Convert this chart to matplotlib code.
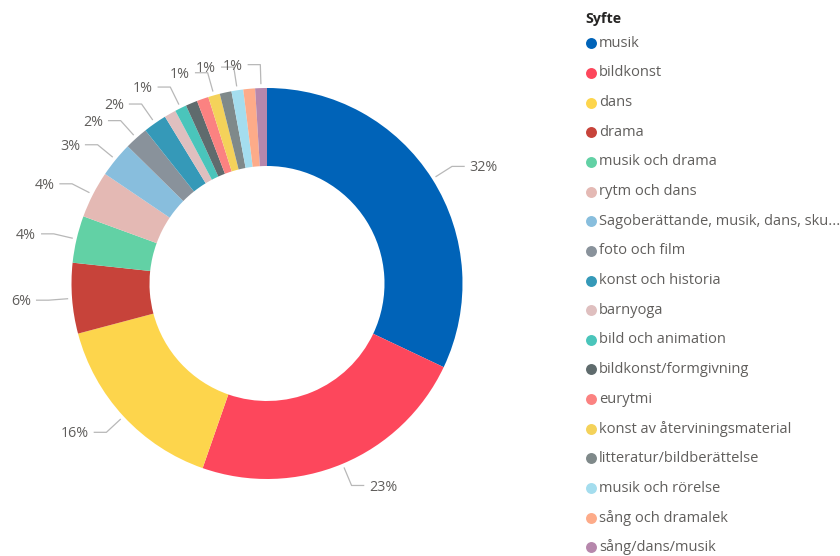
import numpy as np
import matplotlib
matplotlib.use("Agg")
from matplotlib import pyplot as plt

plt.rcParams['font.family'] = ['Open Sans', 'DejaVu Sans']

# data
categories = ["musik", "bildkonst", "dans", "drama", "musik och drama", "rytm och dans",
              "Sagoberättande, musik, dans, sku...", "foto och film", "konst och historia",
              "barnyoga", "bild och animation", "bildkonst/formgivning", "eurytmi",
              "konst av återviningsmaterial", "litteratur/bildberättelse",
              "musik och rörelse", "sång och dramalek", "sång/dans/musik"]
counts = [33, 24, 16, 6, 4, 4, 3, 2, 2, 1, 1, 1, 1, 1, 1, 1, 1, 1]
colors = ["#0063B8", "#FD475C", "#FDD54C", "#C7433A", "#62D1A5", "#E4B9B4",
          "#88BEDD", "#89929B", "#3599B8", "#DFBFBF", "#4AC5BB", "#5F6B6D",
          "#FB8281", "#F4D25A", "#7F898A", "#A4DDEE", "#FDAB89", "#B687AC"]
# slices that get a data label in the original
labelled = [0, 1, 2, 3, 4, 5, 6, 7, 8, 10, 13, 15, 17]

W, H = 840, 556
fig = plt.figure(figsize=(W / 100, H / 100), dpi=100)

# donut axes: centre (267, 283.5) px, outer radius 195.5 px
R = 195.5
cx, cy = 267, 283.5
lim = 1.4
ax = fig.add_axes([(cx - lim * R) / W, (H - cy - lim * R) / H, 2 * lim * R / W, 2 * lim * R / H])
ax.axis("off")

wedges, _ = ax.pie(counts, colors=colors, startangle=90, counterclock=False, radius=1.0,
                   wedgeprops=dict(width=1 - 117.5 / R, linewidth=0))
ax.set_xlim(-lim, lim)
ax.set_ylim(-lim, lim)

total = float(sum(counts))
line_col = "#B8B8B8"
txt_col = "#605E5C"
for i in labelled:
    w = wedges[i]
    mid = np.deg2rad((w.theta1 + w.theta2) / 2.0)
    x0, y0 = 1.02 * np.cos(mid), 1.02 * np.sin(mid)
    x1, y1 = 1.12 * np.cos(mid), 1.12 * np.sin(mid)
    side = 1 if np.cos(mid) > 0.001 else -1
    x2 = x1 + side * 0.065
    ax.plot([x0, x1, x2], [y0, y1, y1], color=line_col, lw=0.9, solid_capstyle="butt")
    pct = "%d%%" % round(100 * counts[i] / total)
    ax.text(x2 + side * 0.025, y1 - 0.008, pct, ha="left" if side > 0 else "right",
            va="center", fontsize=10.3, color=txt_col)

# legend drawn in pixel space
lax = fig.add_axes([0, 0, 1, 1])
lax.set_xlim(0, W)
lax.set_ylim(H, 0)
lax.axis("off")
lax.text(585, 19, "Syfte", fontsize=10.3, fontweight="bold", color="#252423", va="center")
for i, name in enumerate(categories):
    y = 43.3 + i * 29.65
    lax.scatter([591], [y], s=62, color=colors[i], linewidths=0)
    lax.text(599, y, name, fontsize=10.5, color=txt_col, va="center")

plt.savefig("out.png", dpi=100)
